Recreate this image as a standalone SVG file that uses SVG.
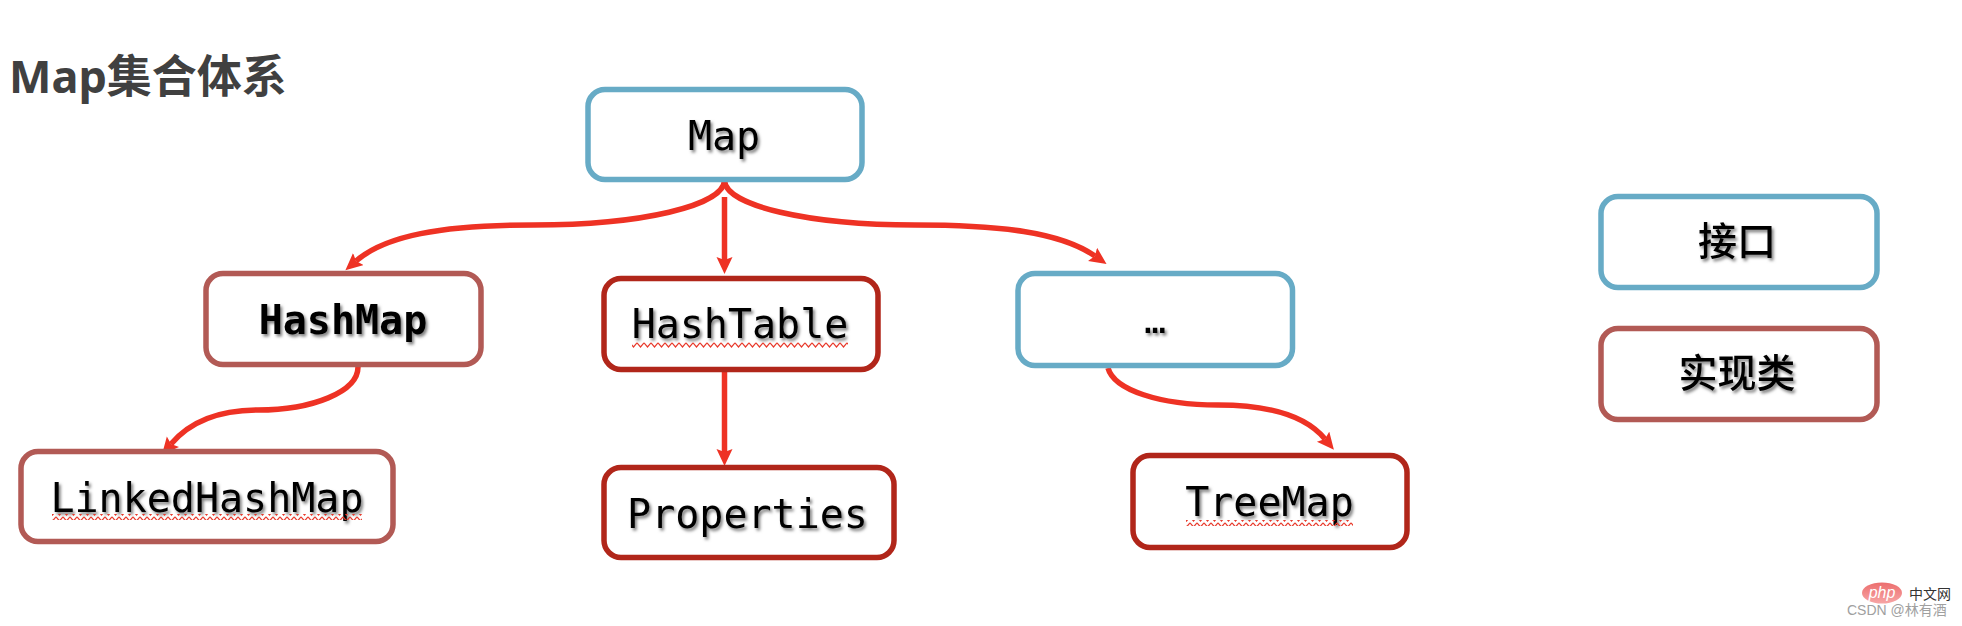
<svg xmlns="http://www.w3.org/2000/svg" width="1962" height="626" viewBox="0 0 1962 626">
<style>
.box{fill:#fff;stroke-width:5.5}
.blue{stroke:#67abc6}
.brown{stroke:#b25a55}
.dark{stroke:#b1261a}
.t{font-family:"DejaVu Sans Mono","Liberation Mono",monospace;font-size:40px;fill:#000;text-anchor:middle;filter:url(#sh)}
.c{font-family:"Noto Sans CJK SC","Noto Sans",sans-serif;font-size:39px;font-weight:500;fill:#000;text-anchor:middle;filter:url(#sh)}
.line{fill:none;stroke:#ee3224;stroke-width:5.5;marker-end:url(#ah)}
</style>
<defs>
<filter id="sh" x="-10%" y="-20%" width="120%" height="150%"><feDropShadow dx="2" dy="2.5" stdDeviation="1.5" flood-color="#000" flood-opacity="0.5"/></filter>
<marker id="ah" markerUnits="userSpaceOnUse" markerWidth="18" markerHeight="18" refX="3" refY="8" orient="auto"><path d="M17 8L0 0L3 8L0 16z" fill="#ee3224"/></marker>
<pattern id="zig" patternUnits="userSpaceOnUse" width="7" height="6"><path d="M0 0.8L3.5 5L7 0.8" fill="none" stroke="#e8392b" stroke-width="1.2"/></pattern>
<linearGradient id="ph" x1="0" y1="0" x2="0" y2="1"><stop offset="0" stop-color="#ec6e6e"/><stop offset="1" stop-color="#f7a5a5"/></linearGradient>
</defs>
<rect width="1962" height="626" fill="#fff"/>
<text x="9" y="93" font-family="'Noto Sans','Noto Sans CJK SC',sans-serif" font-weight="700" font-size="45" fill="#404040">Map集合体系</text>
<g id="connectors">
<path class="line" d="M724.5 180C724.5 206 640 225 534 225C440 225 385 236 356 261"/>
<path class="line" d="M724.5 197V260"/>
<path class="line" d="M724.5 180C724.5 206 810 225 915 225C1000 225 1060 232 1095 256"/>
<path class="line" d="M358 367C358 392 312 410 258 410C215 410 188 424 171 444"/>
<path class="line" d="M724.5 369V452"/>
<path class="line" d="M1108 368C1114 390 1160 405 1218 405C1270 405 1306 416 1325 439"/>
</g>
<g id="map"><rect class="box blue" x="588" y="89.500" width="274" height="90" rx="17"/><text class="t" x="724" y="150">Map</text></g>
<g id="hashmap"><rect class="box brown" x="206" y="273.500" width="275" height="91" rx="17"/><text class="t" x="343" y="334" font-weight="700">HashMap</text></g>
<g id="hashtable"><rect class="box dark" x="604" y="278.500" width="274" height="91" rx="17"/><text class="t" x="740" y="338">HashTable</text><rect x="632" y="342" width="216" height="6" fill="url(#zig)"/></g>
<g id="more"><rect class="box blue" x="1018" y="273.500" width="274.500" height="92" rx="17"/><text class="t" x="1155" y="333" style="font-size:36px">…</text></g>
<g id="linkedhashmap"><rect class="box brown" x="21" y="451.500" width="372" height="90" rx="17"/><text class="t" x="207" y="512">LinkedHashMap</text><rect x="52" y="514" width="310" height="6" fill="url(#zig)"/></g>
<g id="properties"><rect class="box dark" x="604" y="467.500" width="290" height="90" rx="17"/><text class="t" x="747.500" y="528">Properties</text></g>
<g id="treemap"><rect class="box dark" x="1133" y="455.500" width="274" height="92" rx="17"/><text class="t" x="1269.500" y="516">TreeMap</text><rect x="1186" y="520" width="167" height="6" fill="url(#zig)"/></g>
<g id="legend-interface"><rect class="box blue" x="1601" y="196.500" width="276" height="91" rx="17"/><text class="c" x="1737" y="255">接口</text></g>
<g id="legend-impl"><rect class="box brown" x="1601" y="328.500" width="276" height="91" rx="17"/><text class="c" x="1737" y="387">实现类</text></g>
<g id="watermark">
<ellipse cx="1882" cy="593" rx="20" ry="10.500" fill="url(#ph)"/>
<text x="1882" y="598" font-family="'Liberation Sans',sans-serif" font-style="italic" font-size="16" fill="#fff" text-anchor="middle">php</text>
<text x="1909" y="599" font-family="'Noto Sans CJK SC',sans-serif" font-size="14" fill="#333">中文网</text>
<text x="1847" y="615" font-family="'Liberation Sans','Noto Sans CJK SC',sans-serif" font-size="14" fill="#a0a0a0">CSDN @林有酒</text>
</g>
</svg>
